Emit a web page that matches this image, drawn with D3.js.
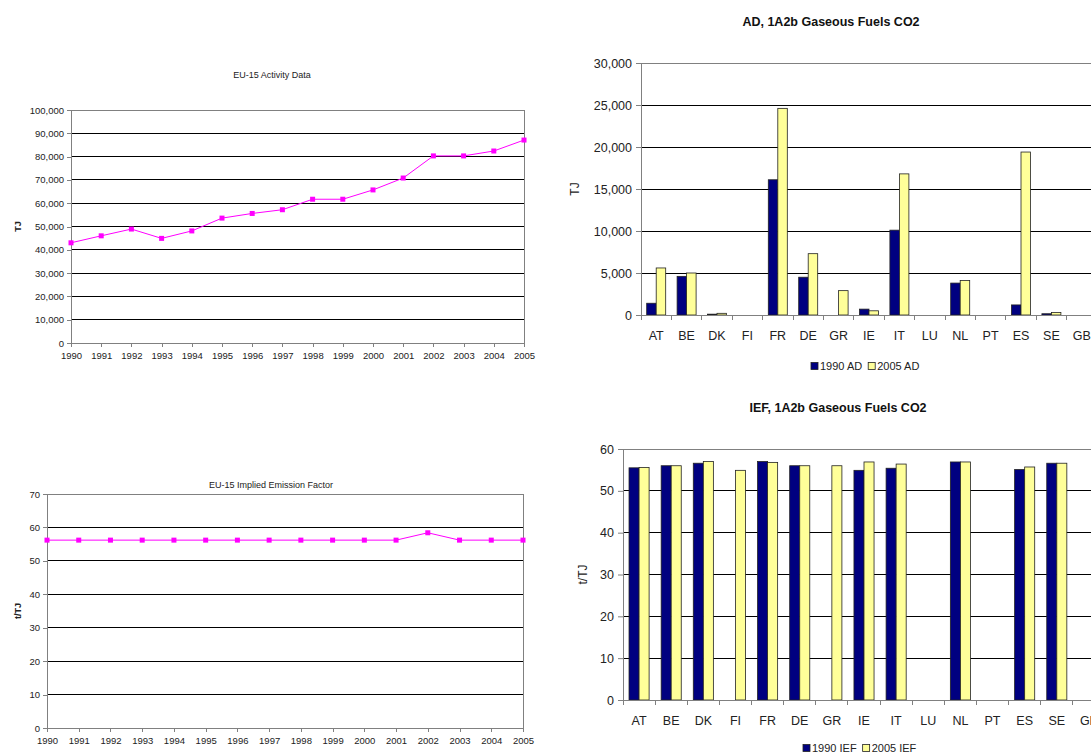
<!DOCTYPE html>
<html>
<head>
<meta charset="utf-8">
<script src="https://cdn.jsdelivr.net/npm/d3@7"></script>
<style>
html,body{margin:0;padding:0;background:#fff;overflow:hidden;}
svg{display:block;font-family:"Liberation Sans",Arial,sans-serif;}
</style>
</head>
<body>
<svg id="c" width="1091" height="755"></svg>
<script>
// ---------- DATA ----------
const years = ["1990","1991","1992","1993","1994","1995","1996","1997","1998","1999","2000","2001","2002","2003","2004","2005"];
const activityData = [43000,46000,48900,44900,48100,53600,55600,57200,61700,61700,65700,70800,80300,80300,82400,87100];
const iefTrend = [56.2,56.2,56.2,56.2,56.2,56.2,56.2,56.2,56.2,56.2,56.2,56.2,58.4,56.2,56.2,56.2];

const countries = ["AT","BE","DK","FI","FR","DE","GR","IE","IT","LU","NL","PT","ES","SE","GB"];
const ad1990 = [1400,4600,100,0,16100,4500,0,700,10100,0,3800,0,1200,150,0];
const ad2005 = [5600,5000,200,0,24600,7300,2900,500,16800,0,4100,0,19400,300,0];
const ief1990 = [55.5,56.0,56.6,0,57.0,56.0,0,54.9,55.4,0,56.9,0,55.1,56.6,0];
const ief2005 = [55.6,56.0,57.0,54.9,56.8,56.0,56.0,56.9,56.4,0,56.9,0,55.7,56.6,0];

const activityTicks = [0,10000,20000,30000,40000,50000,60000,70000,80000,90000,100000];
const iefTrendTicks = [0,10,20,30,40,50,60,70];
const adTicks = [0,5000,10000,15000,20000,25000,30000];
const iefTicks = [0,10,20,30,40,50,60];

const seriesAD = ["1990 AD","2005 AD"];
const seriesIEF = ["1990 IEF","2005 IEF"];
const colors = ["#000080","#FFFF99"];

const svg = d3.select("#c");
const fmt = d3.format(",");
const GRAY = "#808080";

// ---------- LINE CHART ----------
function lineChart(o){
  const g = svg.append("g");
  const x = d3.scalePoint(years,[o.x0,o.x1]).padding(0);
  const y = d3.scaleLinear([0,o.max],[o.y1,o.y0]);
  g.selectAll(".gl").data(o.ticks.filter(t=>t>0)).join("line")
    .attr("x1",o.x0).attr("x2",o.x1).attr("y1",d=>y(d)).attr("y2",d=>y(d))
    .attr("stroke","#000").attr("stroke-width",1).attr("shape-rendering","crispEdges");
  g.append("rect").attr("x",o.x0).attr("y",o.y0).attr("width",o.x1-o.x0).attr("height",o.y1-o.y0)
    .attr("fill","none").attr("stroke",GRAY).attr("shape-rendering","crispEdges");
  const ya = g.append("g").attr("transform",`translate(${o.x0},0)`)
    .call(d3.axisLeft(y).tickValues(o.ticks).tickFormat(fmt).tickSizeOuter(0).tickSize(4).tickPadding(3));
  const xa = g.append("g").attr("transform",`translate(0,${o.y1})`)
    .call(d3.axisBottom(x).tickSizeOuter(0).tickSize(4).tickPadding(5));
  [ya,xa].forEach(a=>{
    a.select(".domain").attr("stroke",GRAY).attr("shape-rendering","crispEdges");
    a.selectAll(".tick line").attr("stroke",GRAY).attr("shape-rendering","crispEdges");
    a.selectAll("text").attr("fill","#222").style("font-size","9.5px").style("font-family","Liberation Sans, Arial, sans-serif");
  });
  const line = d3.line().x((d,i)=>x(years[i])).y(d=>y(d));
  g.append("path").datum(o.values).attr("d",line).attr("fill","none").attr("stroke","#FF00FF").attr("stroke-width",1);
  g.selectAll(".mk").data(o.values).join("rect")
    .attr("x",(d,i)=>x(years[i])-2.5).attr("y",d=>y(d)-2.5).attr("width",5).attr("height",5).attr("fill","#FF00FF");
  g.append("text").attr("x",o.tx).attr("y",o.ty).attr("text-anchor","middle")
    .style("font-size","9px").attr("fill","#222").text(o.title);
  g.append("text").attr("transform",`translate(${o.lx},${(o.y0+o.y1)/2}) rotate(-90)`)
    .attr("text-anchor","middle").style("font-size","9px").style("font-weight","bold").attr("fill","#222").text(o.ylabel);
}

lineChart({x0:71,x1:524,y0:110,y1:343,max:100000,ticks:activityTicks,values:activityData,
  title:"EU-15 Activity Data",tx:272,ty:78,ylabel:"TJ",lx:21});
lineChart({x0:47,x1:523,y0:494,y1:728,max:70,ticks:iefTrendTicks,values:iefTrend,
  title:"EU-15 Implied Emission Factor",tx:271,ty:488,ylabel:"t/TJ",lx:21});

// ---------- BAR CHART ----------
function barChart(o){
  const g = svg.append("g");
  const x = d3.scaleBand(countries,[o.x0,o.x1]).padding(0);
  const xs = d3.scaleBand([0,1],[0,x.bandwidth()]).paddingInner(0).paddingOuter(0.6);
  const y = d3.scaleLinear([0,o.max],[o.y1,o.y0]);
  g.selectAll(".gl").data(o.ticks.filter(t=>t>0)).join("line")
    .attr("x1",o.x0).attr("x2",o.x1).attr("y1",d=>y(d)).attr("y2",d=>y(d))
    .attr("stroke","#000").attr("stroke-width",1).attr("shape-rendering","crispEdges");
  g.append("rect").attr("x",o.x0).attr("y",o.y0).attr("width",o.x1-o.x0).attr("height",o.y1-o.y0)
    .attr("fill","none").attr("stroke",GRAY).attr("shape-rendering","crispEdges");
  [o.s1,o.s2].forEach((vals,si)=>{
    g.selectAll(".b"+si).data(vals).join("rect")
      .attr("x",(d,i)=>x(countries[i])+xs(si)).attr("width",xs.bandwidth())
      .attr("y",d=>y(d)).attr("height",d=>y(0)-y(d))
      .attr("fill",colors[si]).attr("stroke",d=>d>0?"#222":"none").attr("stroke-width",0.8);
  });
  const ya = g.append("g").attr("transform",`translate(${o.x0},0)`)
    .call(d3.axisLeft(y).tickValues(o.ticks).tickFormat(o.fmt).tickSizeOuter(0).tickSize(5).tickPadding(4));
  ya.select(".domain").attr("stroke",GRAY);
  ya.selectAll(".tick line").attr("stroke",GRAY);
  ya.selectAll("text").attr("fill","#222").style("font-size","12.5px").style("font-family","Liberation Sans, Arial, sans-serif");
  const xa = g.append("g").attr("transform",`translate(0,${o.y1})`);
  xa.append("line").attr("x1",o.x0).attr("x2",o.x1).attr("stroke",GRAY).attr("shape-rendering","crispEdges");
  const bounds = countries.map(c=>x(c)).concat([o.x1]);
  xa.selectAll(".tk").data(bounds).join("line").attr("x1",d=>d).attr("x2",d=>d).attr("y1",0).attr("y2",5)
    .attr("stroke",GRAY).attr("shape-rendering","crispEdges");
  xa.selectAll(".lb").data(countries).join("text")
    .attr("x",d=>x(d)+x.bandwidth()/2).attr("y",o.ly-o.y1).attr("text-anchor","middle")
    .style("font-size","12.5px").attr("fill","#222").text(d=>d);
  g.append("text").attr("x",o.tx).attr("y",o.ty).attr("text-anchor","middle")
    .style("font-size","12.5px").style("font-weight","bold").attr("fill","#111").text(o.title);
  g.append("text").attr("transform",`translate(${o.lx},${(o.y0+o.y1)/2}) rotate(-90)`)
    .attr("text-anchor","middle").attr("dominant-baseline","middle").style("font-size","12px").attr("fill","#222").text(o.ylabel);
  const lg = g.append("g");
  let lx = o.legx;
  o.series.forEach((s,i)=>{
    lg.append("rect").attr("x",lx).attr("y",o.legy-3.5).attr("width",7).attr("height",7)
      .attr("fill",colors[i]).attr("stroke","#222").attr("stroke-width",0.8);
    const t = lg.append("text").attr("x",lx+9).attr("y",o.legy+4).style("font-size","11px").attr("fill","#222").text(s);
    lx += 9 + t.node().getComputedTextLength() + 6;
  });
}

barChart({x0:641,x1:1097,y0:63,y1:315,max:30000,ticks:adTicks,fmt:fmt,s1:ad1990,s2:ad2005,
  title:"AD, 1A2b Gaseous Fuels CO2",tx:831,ty:26,ylabel:"TJ",lx:576,ly:340,series:seriesAD,legx:811,legy:366});
barChart({x0:623,x1:1105,y0:449,y1:700,max:60,ticks:iefTicks,fmt:d3.format("d"),s1:ief1990,s2:ief2005,
  title:"IEF, 1A2b Gaseous Fuels CO2",tx:838,ty:412,ylabel:"t/TJ",lx:584,ly:725,series:seriesIEF,legx:803,legy:748});
</script>
</body>
</html>
